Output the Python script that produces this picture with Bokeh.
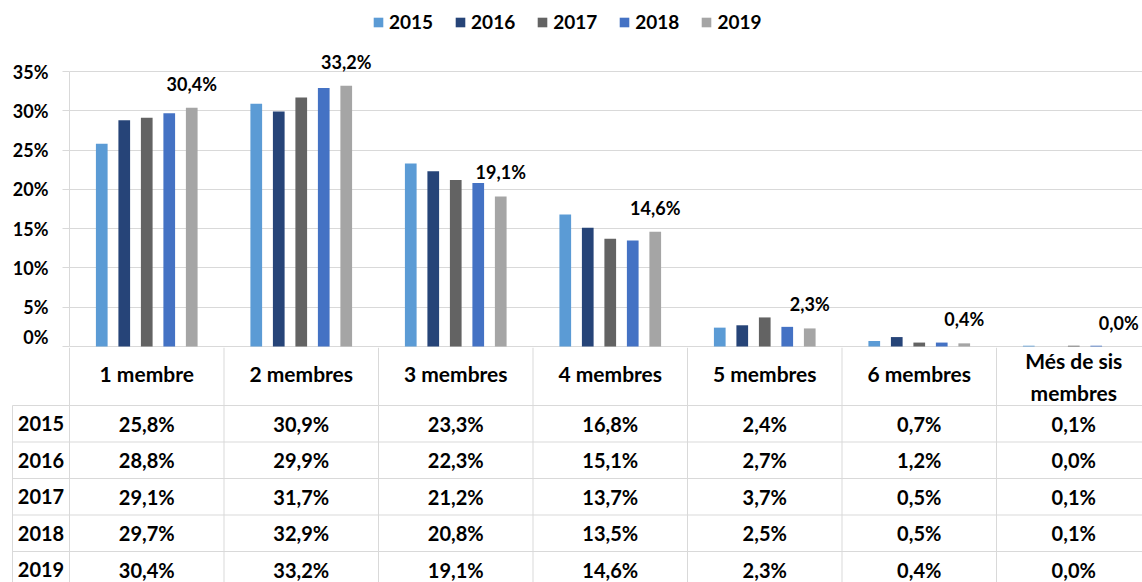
from bokeh.plotting import figure
from bokeh.layouts import column
from bokeh.models import (Range1d, FixedTicker, PrintfTickFormatter, Legend,
                          LegendItem, ColumnDataSource)
from bokeh.core.properties import value
from bokeh.embed import file_html
from bokeh.resources import INLINE

# ---------------- data ----------------
categories = ["1 membre", "2 membres", "3 membres", "4 membres",
              "5 membres", "6 membres", "Més de sis\nmembres"]
years = ["2015", "2016", "2017", "2018", "2019"]
v2015 = [25.8, 30.9, 23.3, 16.8, 2.4, 0.7, 0.1]
v2016 = [28.8, 29.9, 22.3, 15.1, 2.7, 1.2, 0.0]
v2017 = [29.1, 31.7, 21.2, 13.7, 3.7, 0.5, 0.1]
v2018 = [29.7, 32.9, 20.8, 13.5, 2.5, 0.5, 0.1]
v2019 = [30.4, 33.2, 19.1, 14.6, 2.3, 0.4, 0.0]
series = [v2015, v2016, v2017, v2018, v2019]
colors = ["#5B9BD5", "#264478", "#636363", "#4472C4", "#A5A5A5"]
y_ticks = [0, 5, 10, 15, 20, 25, 30, 35]

FONT = "Lato"
GRID = "#D9D9D9"
TXT = "#000000"


def fmt(v):
    return f"{v:.1f}%".replace(".", ",")


# ---------------- geometry ----------------
W = 1142
LEFT = 69
NCAT = len(categories)
PXX = 154.5                      # px per category
XMAX = (W - LEFT) / PXX          # visible category span (last one is cut)
PXY = 275 / 35                   # px per percent
H1 = 347
H2 = 582 - H1
STEP = 0.1456
BARW = 0.0757

# ---------------- chart ----------------
p = figure(width=W, height=H1, output_backend="svg", toolbar_location=None,
           x_range=Range1d(0, XMAX),
           y_range=Range1d(-1 / PXY, 35 + 71 / PXY),
           min_border_left=LEFT, min_border_right=0, min_border_top=0,
           min_border_bottom=0, x_axis_location=None,
           outline_line_color=None, background_fill_color="white",
           border_fill_color="white")
p.frame_align = False
p.xgrid.visible = False
p.ygrid.ticker = FixedTicker(ticks=y_ticks)
p.ygrid.grid_line_color = GRID
p.ygrid.grid_line_width = 1

ax = p.yaxis[0]
ax.ticker = FixedTicker(ticks=y_ticks)
ax.formatter = PrintfTickFormatter(format="%d%%")
ax.bounds = (0, 35)
ax.axis_line_color = GRID
ax.major_tick_line_color = GRID
ax.major_tick_out = 7
ax.major_tick_in = 0
ax.minor_tick_line_color = None
ax.major_label_standoff = 14
ax.major_label_text_font = FONT
ax.major_label_text_font_style = "bold"
ax.major_label_text_font_size = "18px"
ax.major_label_text_color = TXT

renderers = []
for j, (yr, vals) in enumerate(zip(years, series)):
    xs = [i + 0.5 + (j - 2) * STEP for i in range(NCAT)]
    src = ColumnDataSource(dict(x=xs, top=vals))
    r = p.vbar(x="x", top="top", width=BARW, source=src,
               fill_color=colors[j], line_color=None)
    renderers.append(r)
    if yr == "2019":
        lsrc = ColumnDataSource(dict(x=xs, y=vals, t=[fmt(v) for v in vals]))
        p.text(x="x", y="y", text="t", source=lsrc, text_align="center",
               text_baseline="alphabetic", y_offset=-24,
               text_font=value(FONT), text_font_style="bold",
               text_font_size="18px", text_color=TXT)

legend = Legend(items=[LegendItem(label=yr, renderers=[r])
                       for yr, r in zip(years, renderers)],
                orientation="horizontal", location=(303, 314),
                glyph_width=12, glyph_height=12, label_standoff=5,
                spacing=21, padding=0, margin=0,
                border_line_color=None, background_fill_alpha=0,
                label_text_font=FONT, label_text_font_style="bold",
                label_text_font_size="19px", label_text_color=TXT)
p.add_layout(legend)

# ---------------- data table ----------------
x0 = -LEFT / PXX
t = figure(width=W, height=H2, output_backend="svg", toolbar_location=None,
           x_range=Range1d(x0, XMAX), y_range=Range1d(H2, 0),
           min_border=0, min_border_left=0, min_border_right=0,
           min_border_top=0, min_border_bottom=0,
           x_axis_location=None, y_axis_location=None,
           outline_line_color=None, background_fill_color="white",
           border_fill_color="white")
t.frame_align = False
t.grid.visible = False

HEADER = 58
ROW = 36.5
year_left = x0 + 12 / PXX
row_tops = [HEADER + k * ROW for k in range(len(years))]
row_mid = [rt + ROW / 2 for rt in row_tops]

# vertical borders
t.segment(x0=list(range(NCAT)), y0=[0] * NCAT,
          x1=list(range(NCAT)), y1=[H2] * NCAT, line_color=GRID, line_width=1)
t.segment(x0=[year_left], y0=[HEADER], x1=[year_left], y1=[H2],
          line_color=GRID, line_width=1)
# horizontal borders
t.segment(x0=[year_left] * len(row_tops), y0=row_tops,
          x1=[NCAT] * len(row_tops), y1=row_tops, line_color=GRID, line_width=1)

cx = [i + 0.5 for i in range(NCAT)]
head_y = [HEADER / 2 if "\n" in c else HEADER / 2 - 3 for c in categories]
t.text(x=cx, y=head_y, text=categories, text_align="center",
       text_baseline="middle", text_line_height=1.27,
       text_font=value(FONT), text_font_style="bold", text_font_size="21px",
       text_color=TXT)
t.text(x=[year_left / 2] * len(years), y=row_mid, text=years,
       text_align="center", text_baseline="middle",
       text_font=value(FONT), text_font_style="bold", text_font_size="20px",
       text_color=TXT)
for k, vals in enumerate(series):
    t.text(x=cx, y=[row_mid[k]] * NCAT, text=[fmt(v) for v in vals],
           text_align="center", text_baseline="middle",
           text_font=value(FONT), text_font_style="bold",
           text_font_size="20px", text_color=TXT)

layout = column(p, t, spacing=0)
open("out.html", "w").write(file_html(layout, INLINE))
